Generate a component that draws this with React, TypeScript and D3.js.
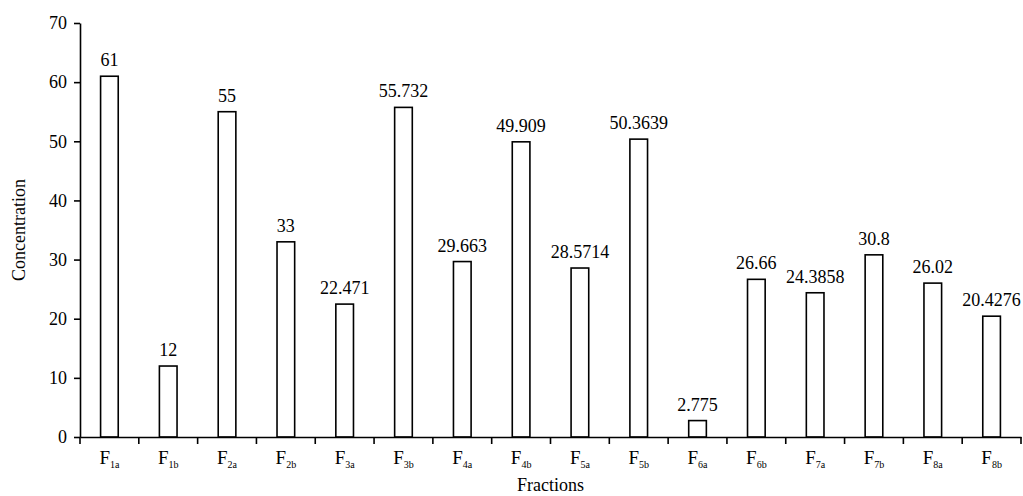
import React, { useEffect, useRef } from "react";
import * as d3 from "d3";

const fractions = ["1a", "1b", "2a", "2b", "3a", "3b", "4a", "4b", "5a", "5b", "6a", "6b", "7a", "7b", "8a", "8b"];
const concentrations = [61, 12, 55, 33, 22.471, 55.732, 29.663, 49.909, 28.5714, 50.3639, 2.775, 26.66, 24.3858, 30.8, 26.02, 20.4276];
const valueLabels = ["61", "12", "55", "33", "22.471", "55.732", "29.663", "49.909", "28.5714", "50.3639", "2.775", "26.66", "24.3858", "30.8", "26.02", "20.4276"];
const yTicks = [0, 10, 20, 30, 40, 50, 60, 70];

const App: React.FC = () => {
  const svgRef = useRef<SVGSVGElement>(null);

  useEffect(() => {
    if (!svgRef.current) return;
    const svg = d3.select(svgRef.current);
    svg.selectAll("*").remove();

    const left = 80;
    const right = 1021;
    const top = 23;
    const bottom = 437;
    const font = "'Liberation Serif', 'Times New Roman', serif";

    const x = d3.scaleBand<string>().domain(fractions).range([left, right]).paddingInner(0.7).paddingOuter(0.35);
    const xTick = d3.scaleBand<string>().domain(fractions).range([left, right]);
    const y = d3.scaleLinear().domain([0, 70]).range([bottom, top]);

    // Bars
    svg
      .append("g")
      .selectAll("rect")
      .data(concentrations)
      .enter()
      .append("rect")
      .attr("x", (_, i) => x(fractions[i]) || 0)
      .attr("y", (d) => y(d))
      .attr("width", x.bandwidth())
      .attr("height", (d) => bottom - y(d))
      .attr("fill", "white")
      .attr("stroke", "black")
      .attr("stroke-width", 1.6);

    // Value labels
    svg
      .append("g")
      .selectAll("text")
      .data(concentrations)
      .enter()
      .append("text")
      .attr("x", (_, i) => (x(fractions[i]) || 0) + x.bandwidth() / 2)
      .attr("y", (d) => y(d) - 10)
      .attr("text-anchor", "middle")
      .style("font-family", font)
      .style("font-size", "18px")
      .text((_, i) => valueLabels[i]);

    // Y axis
    const yAxis = svg
      .append("g")
      .attr("transform", `translate(${left},0)`)
      .call(d3.axisLeft(y).tickValues(yTicks).tickSize(6).tickPadding(7).tickSizeOuter(0));
    yAxis.select(".domain").attr("stroke-width", 1.6);
    yAxis.selectAll(".tick line").attr("stroke-width", 1.6);
    yAxis.selectAll(".tick text").style("font-family", font).style("font-size", "18px");

    // X axis
    const xAxis = svg
      .append("g")
      .attr("transform", `translate(0,${bottom})`)
      .call(d3.axisBottom(xTick).tickSize(0).tickFormat(() => ""));
    xAxis.select(".domain").attr("stroke-width", 1.6);
    xAxis.selectAll(".tick").remove();

    const edges = fractions.map((f) => xTick(f) || 0).concat([right]);
    xAxis
      .selectAll("line.edge")
      .data(edges)
      .enter()
      .append("line")
      .attr("class", "edge")
      .attr("x1", (d) => d)
      .attr("x2", (d) => d)
      .attr("y1", 0)
      .attr("y2", 7)
      .attr("stroke", "black")
      .attr("stroke-width", 1.6);

    const labels = xAxis
      .selectAll("text.lab")
      .data(fractions)
      .enter()
      .append("text")
      .attr("class", "lab")
      .attr("x", (d) => (xTick(d) || 0) + xTick.bandwidth() / 2)
      .attr("y", 27)
      .attr("text-anchor", "middle")
      .style("font-family", font)
      .style("font-size", "19px")
      .attr("fill", "black");
    labels.append("tspan").text("F");
    labels
      .append("tspan")
      .attr("dy", 4)
      .style("font-size", "10px")
      .text((d) => d);

    // Axis titles
    svg
      .append("text")
      .attr("x", (left + right) / 2)
      .attr("y", 491)
      .attr("text-anchor", "middle")
      .style("font-family", font)
      .style("font-size", "18px")
      .text("Fractions");

    svg
      .append("text")
      .attr("transform", `translate(25,${(top + bottom) / 2}) rotate(-90)`)
      .attr("text-anchor", "middle")
      .style("font-family", font)
      .style("font-size", "18px")
      .text("Concentration");
  }, []);

  return (
    <svg
      ref={svgRef}
      width={1023}
      height={496}
      style={{ position: "absolute", left: 0, top: 0, background: "white" }}
    />
  );
};

export default App;
